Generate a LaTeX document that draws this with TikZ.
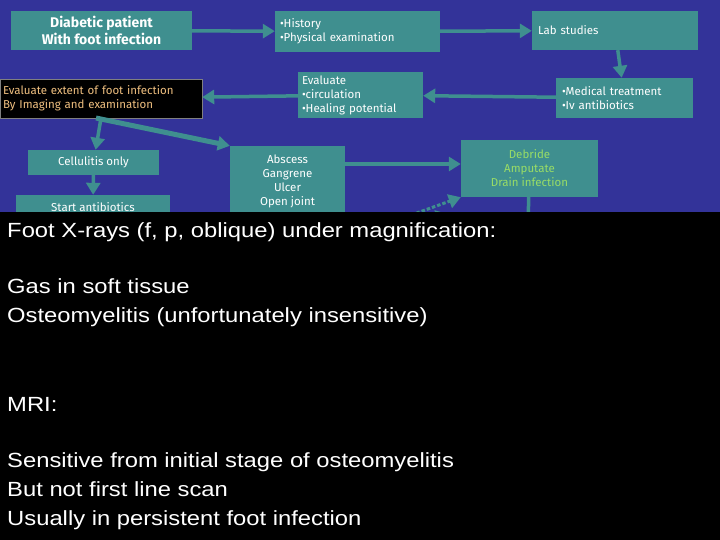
\documentclass[tikz,border=0pt]{standalone}
\usepackage{fontspec}
\setmainfont{Liberation Sans}
\newfontfamily\boxf{Fira Sans}
\usetikzlibrary{arrows.meta}
\definecolor{bg}{HTML}{333399}
\definecolor{tl}{HTML}{3F8F8F}
\definecolor{ora}{HTML}{F0C080}
\definecolor{lgr}{HTML}{99DD66}
\begin{document}
\begin{tikzpicture}[x=1pt,y=-1pt,
 bx/.style={fill=tl,text=white,font=\boxf\fontsize{11.5}{14}\selectfont,inner sep=0pt},
 ar/.style={-{Triangle[length=12pt,width=14pt]},line width=3.5pt,draw=tl}]
\useasboundingbox (0,0) rectangle (720,540);
\fill[bg] (0,0) rectangle (720,540);
\node[bx,minimum width=181pt,minimum height=39pt,font=\boxf\bfseries\fontsize{14}{17}\selectfont,align=center] (dp) at (101.5,30.5) {Diabetic patient\\With foot infection};
\node[bx,minimum width=165pt,minimum height=41pt,align=left,text width=155pt] (hi) at (357.5,31.5) {\textbullet History\\\textbullet Physical examination};
\node[bx,minimum width=166pt,minimum height=39pt,align=left,text width=154pt] (lab) at (615,30.5) {Lab studies};
\node[bx,minimum width=137pt,minimum height=40pt,align=left,text width=125pt] (med) at (624.5,98) {\textbullet Medical treatment\\\textbullet Iv antibiotics};
\node[bx,minimum width=125pt,minimum height=46pt,align=left,text width=117pt] (ev) at (360.5,95) {Evaluate\\\textbullet circulation\\\textbullet Healing potential};
\node[bx,fill=black,draw=gray,text=ora,minimum width=202pt,minimum height=39pt,align=left,text width=196pt] (ex) at (101,98.5) {Evaluate extent of foot infection\\By Imaging and examination};
\node[bx,minimum width=131pt,minimum height=25pt] (ce) at (93.5,162.5) {Cellulitis only};
\node[bx,minimum width=154pt,minimum height=25pt] (sa) at (93,207.5) {Start antibiotics};
\node[bx,minimum width=115pt,minimum height=70pt,align=center] (ab) at (287.5,181) {Abscess\\Gangrene\\Ulcer\\Open joint};
\node[bx,text=lgr,minimum width=137pt,minimum height=57pt,align=center] (db) at (529.5,168.5) {Debride\\Amputate\\Drain infection};
\coordinate (lo) at (528,225);
\coordinate (dt) at (375,228);
\coordinate (ds) at (410,225);
\draw[ar] (dp) -- (hi);
\draw[ar] (hi) -- (lab);
\draw[ar] (lab) -- (med);
\draw[ar] (med) -- (ev);
\draw[ar] (ev) -- (ex);
\draw[ar] (ex.south) -- (ce);
\draw[ar] (ce) -- (sa);
\draw[ar,line width=5pt] (96,118) -- (ab.north west);
\draw[ar] (ab.east|-164,164) -- (db.west|-164,164);
\draw[ar,dotted,line width=3pt] (dt) -- (db.south west);
\draw[ar] (db) -- (lo);
\draw[ar] (ds) -- (448,214);
\fill[black] (0,212) rectangle (720,540);
\node[anchor=north west,text=white,align=left,font=\fontsize{20.5}{29}\selectfont,inner sep=0pt,xscale=1.16,transform shape] (tx) at (7,222) {Foot X-rays (f, p, oblique) under magnification:\\[27pt]Gas in soft tissue\\Osteomyelitis (unfortunately insensitive)\\[60pt]MRI:\\[27pt]Sensitive from initial stage of osteomyelitis\\But not first line scan\\Usually in persistent foot infection};
\end{tikzpicture}
\end{document}
